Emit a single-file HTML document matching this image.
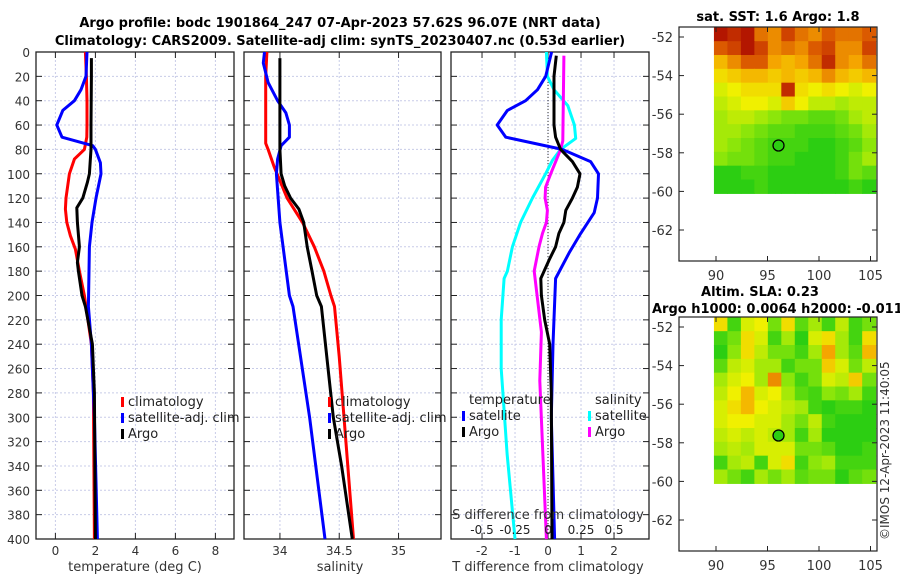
<!DOCTYPE html>
<html><head><meta charset="utf-8"><style>
body{margin:0;background:#fff;width:900px;height:580px;overflow:hidden}
svg{display:block;font-family:"DejaVu Sans","Liberation Sans",sans-serif}
</style></head><body>
<svg id="c" width="900" height="580" viewBox="0 0 900 580">
<text x="340" y="27" font-size="13" font-weight="bold" text-anchor="middle">Argo profile: bodc 1901864_247 07-Apr-2023 57.62S 96.07E (NRT data)</text>
<text x="340" y="45" font-size="13" font-weight="bold" text-anchor="middle">Climatology: CARS2009. Satellite-adj clim: synTS_20230407.nc (0.53d earlier)</text>
<text x="778" y="21" font-size="13" font-weight="bold" text-anchor="middle">sat. SST: 1.6 Argo: 1.8</text>
<text x="760" y="296" font-size="13" font-weight="bold" text-anchor="middle">Altim. SLA: 0.23</text>
<text x="652" y="313" font-size="13" font-weight="bold">Argo h1000: 0.0064 h2000: -0.011</text>
<text transform="translate(889,540) rotate(-90)" font-size="12" fill="#333">©IMOS 12-Apr-2023 11:40:05</text>
</svg>
<script>
// ---- profile data ----
const depthsTclim=[0,20,40,60,70,80,88,100,120,129,140,151,162,180,200,209,240,280,400];
const tempClim=[1.5,1.55,1.58,1.58,1.57,1.45,0.95,0.7,0.53,0.5,0.57,0.75,1.0,1.2,1.45,1.53,1.8,1.9,1.95];
const depthsTsat=[0,20,31,40,48,60,70,77,80,91,100,120,140,160,209,240,300,400];
const tempSat=[1.58,1.53,1.28,0.95,0.37,0.07,0.33,1.87,2.0,2.25,2.28,2.03,1.83,1.7,1.65,1.8,1.95,2.1];
const depthsTargo=[5,20,60,80,100,107,120,128,140,160,173,180,200,209,240,280,400];
const tempArgo=[1.8,1.8,1.78,1.78,1.7,1.6,1.37,1.07,1.1,1.2,1.1,1.15,1.33,1.5,1.85,1.95,2.0];
const depthsSclim=[0,20,75,80,94,120,140,160,180,200,209,250,300,400];
const salClim=[33.89,33.88,33.88,33.9,33.95,34.06,34.19,34.29,34.37,34.43,34.46,34.5,34.54,34.62];
const depthsSsat=[0,9,25,40,50,60,70,77,88,100,140,200,209,300,400];
const salSat=[33.87,33.86,33.9,33.98,34.05,34.08,34.08,34.01,33.98,33.97,34.0,34.08,34.11,34.25,34.38];
const depthsSargo=[5,80,100,110,120,129,140,160,180,200,209,300,340,400];
const salArgo=[34.0,34.0,34.01,34.04,34.09,34.16,34.2,34.23,34.27,34.31,34.35,34.45,34.52,34.61];
const depthsDTsat=[0,20,31,40,48,60,70,80,90,100,120,132,149,165,186,240,300,400];
const dTsat=[0.11,-0.07,-0.32,-0.68,-1.23,-1.54,-1.28,0.43,1.29,1.53,1.5,1.4,0.99,0.64,0.23,0.15,0.1,0.2];
const depthsDTargo=[3,20,60,70,80,90,100,111,120,130,140,149,160,171,180,186,200,220,240,280,400];
const dTargo=[0.25,0.18,0.18,0.23,0.38,0.74,0.97,0.89,0.74,0.54,0.48,0.33,0.23,0.03,-0.12,-0.22,-0.2,-0.1,0.05,0.1,0.12];
const depthsDSsat=[0,20,31,44,60,71,80,89,100,120,140,160,180,186,220,260,330,400];
const dSsat=[-0.012,-0.005,0.045,0.15,0.2,0.21,0.095,0.033,-0.018,-0.118,-0.208,-0.27,-0.308,-0.333,-0.355,-0.355,-0.31,-0.25];
const depthsDSargo=[3,73,80,90,100,111,120,130,140,149,160,180,230,270,400];
const dSargo=[0.12,0.112,0.095,0.058,0.02,-0.018,-0.022,-0.005,-0.012,-0.042,-0.068,-0.105,-0.05,-0.062,-0.012];
const depthTicks=[0,20,40,60,80,100,120,140,160,180,200,220,240,260,280,300,320,340,360,380,400];
const tTicks=[0,2,4,6,8];
const sTicks=[34,34.5,35];
const dTTicks=[-2,-1,0,1,2];
const dSTicks=[-0.5,-0.25,0,0.25,0.5];
const dSTickLabels=["-0.5","-0.25","0","0.25","0.5"];
// ---- map data (0=green ... 1=dark red) ----
const sstGrid=[
[0.95,0.9,0.95,0.75,0.7,0.85,0.75,0.7,0.8,0.75,0.75,0.8],
[0.8,0.85,0.95,0.85,0.7,0.75,0.7,0.8,0.85,0.7,0.7,0.85],
[0.6,0.7,0.8,0.8,0.65,0.6,0.65,0.75,0.9,0.7,0.65,0.75],
[0.5,0.55,0.6,0.6,0.55,0.6,0.55,0.6,0.7,0.6,0.55,0.6],
[0.4,0.45,0.5,0.5,0.5,0.9,0.5,0.45,0.5,0.45,0.4,0.45],
[0.35,0.4,0.45,0.45,0.4,0.55,0.45,0.35,0.35,0.3,0.35,0.35],
[0.3,0.35,0.35,0.3,0.25,0.2,0.2,0.15,0.15,0.2,0.3,0.35],
[0.3,0.3,0.25,0.2,0.15,0.15,0.1,0.1,0.1,0.15,0.2,0.3],
[0.3,0.25,0.2,0.15,0.1,0.1,0.1,0.05,0.05,0.1,0.15,0.25],
[0.25,0.2,0.2,0.15,0.1,0.1,0.05,0.05,0.05,0.1,0.2,0.3],
[0.05,0.05,0.1,0.1,0.05,0.05,0.05,0.05,0.05,0.1,0.2,0.15],
[0.05,0.05,0.05,0.1,0.05,0.05,0.05,0.05,0.05,0.05,0.1,0.05]];
const slaGrid=[
[0.5,0.1,0.4,0.45,0.2,0.5,0.15,0.3,0.1,0.35,0.1,0.2],
[0.1,0.2,0.5,0.4,0.1,0.3,0.05,0.4,0.5,0.3,0.1,0.5],
[0.05,0.25,0.5,0.35,0.2,0.2,0.1,0.3,0.65,0.3,0.15,0.6],
[0.15,0.35,0.4,0.3,0.3,0.1,0.2,0.2,0.55,0.4,0.2,0.35],
[0.3,0.4,0.45,0.3,0.7,0.25,0.1,0.2,0.4,0.35,0.55,0.2],
[0.35,0.45,0.6,0.4,0.45,0.3,0.15,0.1,0.25,0.2,0.3,0.1],
[0.4,0.5,0.6,0.45,0.4,0.35,0.3,0.1,0.05,0.1,0.1,0.05],
[0.4,0.45,0.45,0.4,0.4,0.3,0.2,0.35,0.1,0.05,0.05,0.05],
[0.35,0.4,0.35,0.4,0.35,0.3,0.1,0.3,0.05,0.05,0.05,0.05],
[0.3,0.35,0.3,0.4,0.4,0.4,0.2,0.2,0.15,0.05,0.05,0.1],
[0.1,0.3,0.35,0.1,0.4,0.5,0.1,0.25,0.3,0.1,0.1,0.1],
[0.3,0.2,0.1,0.3,0.2,0.3,0.15,0.2,0.2,0.05,0.15,0.2]];
const lonTicks=[90,95,100,105];
const latTicks=[-52,-54,-56,-58,-60,-62];
const argoLon=96.07, argoLat=-57.62;

const NS="http://www.w3.org/2000/svg";
const svg=document.getElementById('c');
function el(tag,attrs,parent){const e=document.createElementNS(NS,tag);for(const k in attrs)e.setAttribute(k,attrs[k]);(parent||svg).appendChild(e);return e;}
const Y0=52,Y1=539;
const yD=d=>Y0+(d/400)*(Y1-Y0);

function panel(name,x0,x1,dmin,dmax,xticks,labels,showY){
  const g=el('g',{});
  
  
  const xs=v=>x0+(v-dmin)/(dmax-dmin)*(x1-x0);
  depthTicks.forEach(d=>{
    const l=el('line',{x1:x0,x2:x1,y1:yD(d),y2:yD(d),stroke:'#c8cce8','stroke-width':1,'stroke-dasharray':'2,2'},g);
    
    
    el('line',{x1:x0,x2:x0+6,y1:yD(d),y2:yD(d),stroke:'#222'},g);
    el('line',{x1:x1-6,x2:x1,y1:yD(d),y2:yD(d),stroke:'#222'},g);
    if(showY){const t=el('text',{x:x0-6,y:yD(d)+5,'font-size':12,fill:'#333','text-anchor':'end'},g);t.textContent=d;
      
      }
  });
  xticks.forEach((v,i)=>{
    const l=el('line',{x1:xs(v),x2:xs(v),y1:Y0,y2:Y1,stroke:'#c8cce8','stroke-width':1,'stroke-dasharray':'2,2'},g);
    
    
    el('line',{x1:xs(v),x2:xs(v),y1:Y0,y2:Y0+6,stroke:'#222'},g);
    el('line',{x1:xs(v),x2:xs(v),y1:Y1-6,y2:Y1,stroke:'#222'},g);
    const t=el('text',{x:xs(v),y:555,'font-size':12,fill:'#333','text-anchor':'middle'},g);t.textContent=labels[i];
    
    
  });
  el('rect',{x:x0,y:Y0,width:x1-x0,height:Y1-Y0,fill:'none',stroke:'#222','stroke-width':1.3},g);
  return {g,xs};
}
function series(p,depths,vals,color,name,scale){
  const pts=depths.map((d,i)=>p.xs(vals[i]*(scale||1)).toFixed(1)+','+yD(d).toFixed(1)).join(' ');
  const l=el('polyline',{points:pts,fill:'none',stroke:color,'stroke-width':3,'stroke-linejoin':'round'},p.g);
  
  
}
function legend(p,x,y,items){
  items.forEach((it,i)=>{
    const yy=y+i*16;
    if(it.c) el('rect',{x:x,y:yy-9,width:3,height:10,fill:it.c},p.g);
    const t=el('text',{x:x+(it.c?7:7),y:yy,'font-size':13,fill:'#222'},p.g);t.textContent=it.t;
    
    
  });
}
function label(txt,x,y,name){const t=el('text',{x:x,y:y,'font-size':13,fill:'#333','text-anchor':'middle'});t.textContent=txt;
  
  }

// Panel 1
const p1=panel('temperature-panel',36,234,-0.97,8.93,tTicks,tTicks.map(String),true);
series(p1,depthsTclim,tempClim,'#f00','temp-climatology-line');
series(p1,depthsTsat,tempSat,'#00f','temp-satellite-line');
series(p1,depthsTargo,tempArgo,'#000','temp-argo-line');
legend(p1,121,406,[{c:'#f00',t:'climatology'},{c:'#00f',t:'satellite-adj. clim'},{c:'#000',t:'Argo'}]);
label('temperature (deg C)',135,571,'x-axis-title-temperature');
// Panel 2
const p2=panel('salinity-panel',244,441,33.697,35.358,sTicks,['34','34.5','35'],false);
series(p2,depthsSclim,salClim,'#f00','sal-climatology-line');
series(p2,depthsSsat,salSat,'#00f','sal-satellite-line');
series(p2,depthsSargo,salArgo,'#000','sal-argo-line');
legend(p2,328,406,[{c:'#f00',t:'climatology'},{c:'#00f',t:'satellite-adj. clim'},{c:'#000',t:'Argo'}]);
label('salinity',340,571,'x-axis-title-salinity');
// Panel 3
const p3=panel('difference-panel',451,649,-2.94,3.06,dTTicks,dTTicks.map(String),false);
const z=el('line',{x1:p3.xs(0),x2:p3.xs(0),y1:Y0,y2:Y1,stroke:'#333','stroke-dasharray':'1,2'},p3.g);


series(p3,depthsDSsat,dSsat,'#0ff','sal-diff-satellite-line',4);
series(p3,depthsDSargo,dSargo,'#f0f','sal-diff-argo-line',4);
series(p3,depthsDTsat,dTsat,'#00f','temp-diff-satellite-line');
series(p3,depthsDTargo,dTargo,'#000','temp-diff-argo-line');
legend(p3,462,404,[{c:null,t:'temperature'},{c:'#00f',t:'satellite'},{c:'#000',t:'Argo'}]);
legend(p3,588,404,[{c:null,t:'salinity'},{c:'#0ff',t:'satellite'},{c:'#f0f',t:'Argo'}]);
const wb=el('rect',{x:451,y:505,width:197,height:33,fill:'#fff',opacity:0.0},p3.g);
dSTicks.forEach((v,i)=>{const t=el('text',{x:p3.xs(v*4),y:534,'font-size':12,fill:'#222','text-anchor':'middle'},p3.g);t.textContent=dSTickLabels[i];
  
  });
label('S difference from climatology',548,519,'s-axis-title');
label('T difference from climatology',548,571,'x-axis-title-difference');

// Maps
function cmap(v){
  const stops=[[0,[20,200,20]],[0.25,[140,230,10]],[0.45,[240,240,0]],[0.65,[245,165,0]],[0.82,[215,80,0]],[1,[165,0,0]]];
  for(let i=1;i<stops.length;i++){if(v<=stops[i][0]){const a=stops[i-1],b=stops[i],f=(v-a[0])/(b[0]-a[0]);
    return 'rgb('+a[1].map((c,k)=>Math.round(c+(b[1][k]-c)*f)).join(',')+')';}}
  return 'rgb(165,0,0)';
}
function map(name,top,grid){
  const g=el('g',{});
  
  
  const bx0=679,bx1=877,by0=top,by1=top+234;
  const lon=v=>716+(v-90)*10.3;
  const lat=v=>(top+10)+(-52-v)*19.3;
  const x0=lon(89.8),x1=lon(105.5),y0=lat(-51.5),y1=lat(-60.1);
  const rows=grid.length,cols=grid[0].length,cw=(x1-x0)/cols,ch=(y1-y0)/rows;
  grid.forEach((r,i)=>r.forEach((v,j)=>{
    const c=el('rect',{x:(x0+j*cw).toFixed(2),y:(y0+i*ch).toFixed(2),width:(cw+0.6).toFixed(2),height:(ch+0.6).toFixed(2),fill:cmap(v)},g);
    
    
  }));
  el('rect',{x:bx0,y:by0,width:bx1-bx0,height:by1-by0,fill:'none',stroke:'#222','stroke-width':1.2},g);
  lonTicks.forEach(v=>{el('line',{x1:lon(v),x2:lon(v),y1:by1,y2:by1-5,stroke:'#222'},g);el('line',{x1:lon(v),x2:lon(v),y1:by0,y2:by0+5,stroke:'#222'},g);
    const t=el('text',{x:lon(v),y:by1+19,'font-size':13,fill:'#333','text-anchor':'middle'},g);t.textContent=v;
    
    });
  latTicks.forEach(v=>{el('line',{x1:bx0,x2:bx0+5,y1:lat(v),y2:lat(v),stroke:'#222'},g);el('line',{x1:bx1,x2:bx1-5,y1:lat(v),y2:lat(v),stroke:'#222'},g);
    const t=el('text',{x:bx0-6,y:lat(v)+5,'font-size':13,fill:'#333','text-anchor':'end'},g);t.textContent=v;
    
    });
  const dot=el('circle',{cx:lon(argoLon),cy:lat(argoLat),r:5.5,fill:cmap(0.05),stroke:'#000','stroke-width':1.3},g);
  
  
}
map('sst-map',27,sstGrid);
map('sla-map',317,slaGrid);
</script>
</body></html>
